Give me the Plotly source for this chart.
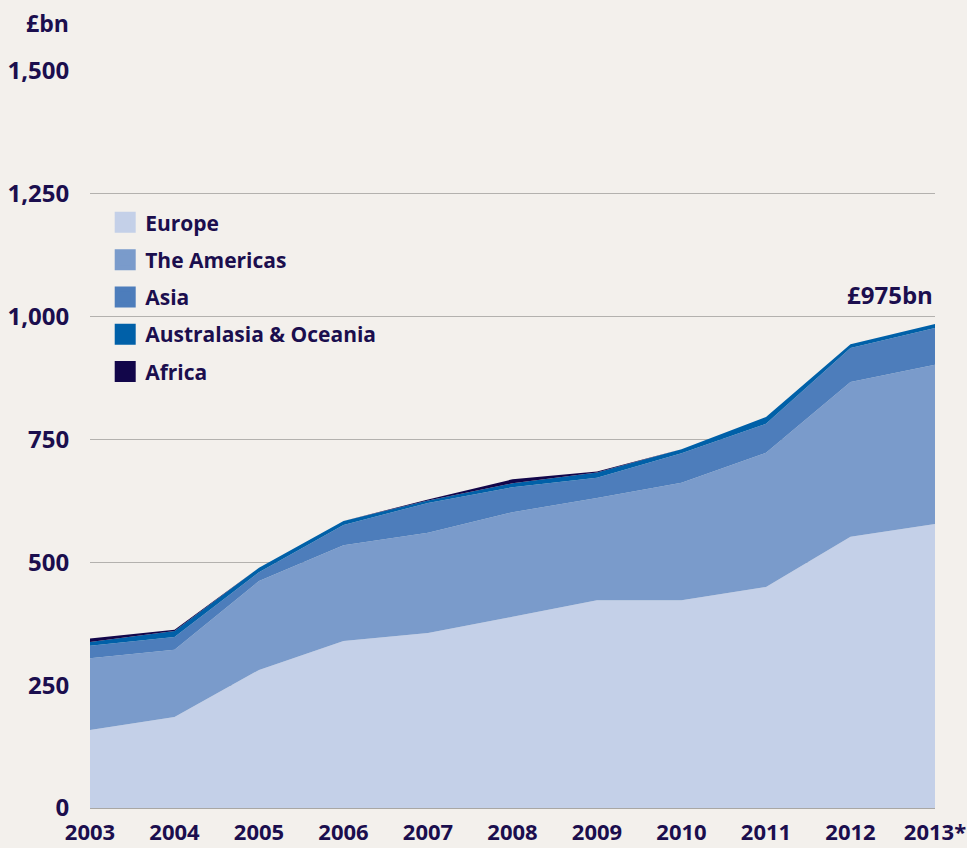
import plotly.graph_objects as go

years = [2003, 2004, 2005, 2006, 2007, 2008, 2009, 2010, 2011, 2012, 2013]
year_labels = ["2003", "2004", "2005", "2006", "2007", "2008", "2009", "2010", "2011", "2012", "2013*"]

europe = [159, 185, 281, 340, 356, 389, 423, 423, 450, 552, 578]
americas = [146, 137, 181, 195, 204, 213, 208, 239, 273, 315, 324]
asia = [25, 26, 18, 41, 61, 51, 41, 60, 59, 69, 75]
australasia = [8, 12, 9, 8, 5, 8, 11, 8, 14, 8, 8]
africa = [7, 3, 0, 0, 2, 8, 2, 0, 0, 0, 0]

series_names = ["Europe", "The Americas", "Asia", "Australasia & Oceania", "Africa"]
series_values = [europe, americas, asia, australasia, africa]
colors = ["#c4d0e8", "#7a9bcb", "#4d7dbb", "#0060a8", "#12064a"]

y_ticks = [0, 250, 500, 750, 1000, 1250, 1500]
y_ticktext = ["0", "250", "500", "750", "1,000", "1,250", "1,500"]

TEXT = "#1b0e4e"
FONT = "Open Sans"

fig = go.Figure()
for name, vals, col in zip(series_names, series_values, colors):
    fig.add_trace(go.Scatter(
        x=years, y=vals, name=name, stackgroup="one", mode="none",
        fillcolor=col, showlegend=False, hoverinfo="x+y+name",
    ))

for i, (name, col) in enumerate(zip(series_names, colors)):
    fig.add_trace(go.Scatter(
        x=[None], y=[None], name=name, mode="markers",
        marker=dict(symbol="square", size=16, color=col, line=dict(color=col, width=5)),
        legendgroup=f"g{i}", showlegend=True,
    ))

fig.add_annotation(xref="paper", yref="paper", x=0, y=1.0, xshift=-19, yshift=48,
                   text="£bn", showarrow=False, xanchor="right", yanchor="middle",
                   font=dict(family=FONT, size=23, color=TEXT, weight=700))
fig.add_annotation(x=2013, y=sum(v[-1] for v in series_values), text="£975bn",
                   showarrow=False, xanchor="right", yanchor="bottom", yshift=11,
                   font=dict(family=FONT, size=24, color=TEXT, weight=700))

fig.update_layout(
    width=967, height=848,
    paper_bgcolor="#f3f0ec", plot_bgcolor="#f3f0ec",
    margin=dict(l=90, r=32, t=71, b=40, autoexpand=False),
    showlegend=True,
    legend=dict(x=0.018, y=0.822, xanchor="left", yanchor="top",
                bgcolor="rgba(0,0,0,0)", traceorder="grouped", tracegroupgap=7,
                font=dict(family=FONT, size=21, color=TEXT, weight=700)),
    xaxis=dict(range=[2003, 2013], tickvals=years, ticktext=year_labels,
               showgrid=False, zeroline=False, showline=False, automargin=False,
               ticks="outside", ticklen=5, tickcolor="rgba(0,0,0,0)",
               ticklabeloverflow="allow",
               tickfont=dict(family=FONT, size=22, color=TEXT, weight=700)),
    yaxis=dict(range=[0, 1500], tickvals=y_ticks, ticktext=y_ticktext,
               showgrid=True, gridcolor="#b3b1ae", gridwidth=1, automargin=False,
               zeroline=True, zerolinecolor="#a9a7a4", zerolinewidth=2,
               ticks="outside", ticklen=15, tickcolor="rgba(0,0,0,0)",
               tickfont=dict(family=FONT, size=24, color=TEXT, weight=700)),
)

fig.write_html(
    "out.html",
    config={"displayModeBar": False},
    post_script="document.body.style.margin='0px';document.documentElement.style.overflow='hidden';",
)
